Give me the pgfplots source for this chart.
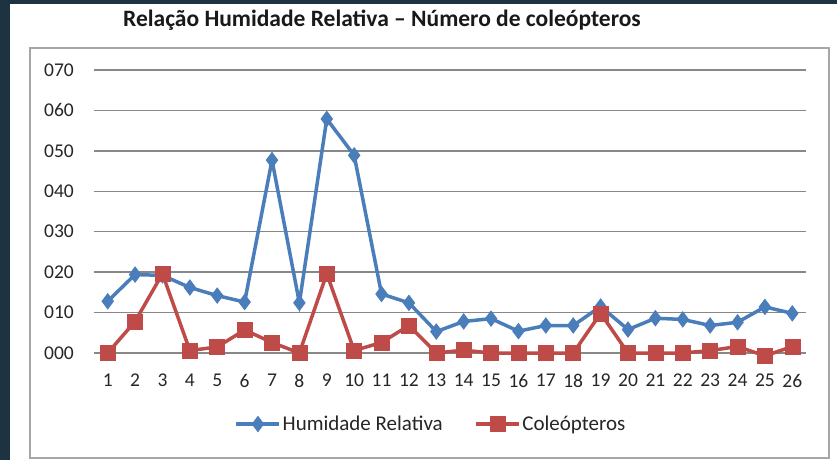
\documentclass[border=0pt]{standalone}
\usepackage{fontspec}
\setmainfont{Carlito}
\usepackage{pgfplots}
\pgfplotsset{compat=1.18}
\definecolor{bgdark}{HTML}{1E3342}
\definecolor{hblue}{HTML}{4A7EBB}
\definecolor{cred}{HTML}{BE4B48}
\definecolor{gridgray}{HTML}{888888}
\definecolor{boxgray}{HTML}{A6A6A6}
\begin{document}
\begin{tikzpicture}[x=1pt,y=1pt]
\useasboundingbox (0,0) rectangle (837,460);
\fill[bgdark] (0,0) rectangle (837,460);
\fill[white] (10,0) rectangle (837,456);
\draw[boxgray, line width=1.5pt] (30,2) rectangle (829,412);
\node[anchor=base, inner sep=0pt, font=\bfseries\fontsize{23.5}{26}\selectfont, text=black!90] at (382,433.3) {Relação Humidade Relativa – Número de coleópteros};
\begin{axis}[
  at={(94pt,107pt)}, anchor=south west,
  scale only axis, width=712pt, height=283pt,
  xmin=0.5, xmax=26.5, ymin=0, ymax=70,
  clip=false,
  axis line style={draw=none},
  major tick length=0pt,
  xtick={1,...,26},
  ytick={0,10,20,30,40,50,60,70},
  yticklabels={000,010,020,030,040,050,060,070},
  /pgf/number format/assume math mode=true,
  ymajorgrids,
  grid style={gridgray, line width=1.3pt},
  tick label style={font=\fontsize{19.5}{22}\selectfont, text=black!85},
  yticklabel style={anchor=east, inner sep=0pt, xshift=-20pt},
  xticklabel style={anchor=north, inner sep=0pt, yshift=-21pt},
  legend columns=2,
  legend cell align=left,
  legend style={draw=none, fill=none, at={(0.473,-0.251)}, anchor=center,
    font=\fontsize{21}{24}\selectfont, text=black!85,
    nodes={inner sep=1.5pt},
    /tikz/every even column/.append style={column sep=30pt}},
  legend image code/.code={\draw[#1, mark repeat=2, mark phase=2] plot coordinates {(0pt,0pt) (21.5pt,0pt) (43pt,0pt)};},
]
\addplot[hblue, line width=3.5pt, mark=diamond*, mark size=7.5pt, mark options={solid, fill=hblue, draw=hblue, line width=1pt}] coordinates {
(1,12.8) (2,19.4) (3,19.2) (4,16.2) (5,14.2) (6,12.6) (7,47.7) (8,12.4) (9,57.9) (10,48.9)
(11,14.6) (12,12.4) (13,5.3) (14,7.8) (15,8.5) (16,5.4) (17,6.8) (18,6.8) (19,11.5) (20,5.8)
(21,8.6) (22,8.3) (23,6.8) (24,7.6) (25,11.4) (26,9.8)};
\addlegendentry{Humidade Relativa}
\addplot[cred, line width=3.5pt, mark=square*, mark size=7.5pt, mark options={solid, fill=cred, draw=cred, line width=0.5pt}] coordinates {
(1,0) (2,7.8) (3,19.6) (4,0.6) (5,1.5) (6,5.7) (7,2.6) (8,0) (9,19.6) (10,0.6)
(11,2.6) (12,6.8) (13,0) (14,0.7) (15,0) (16,0) (17,0) (18,0) (19,9.8) (20,0)
(21,0) (22,0) (23,0.6) (24,1.6) (25,-0.7) (26,1.6)};
\addlegendentry{Coleópteros}
\end{axis}
\end{tikzpicture}
\end{document}
